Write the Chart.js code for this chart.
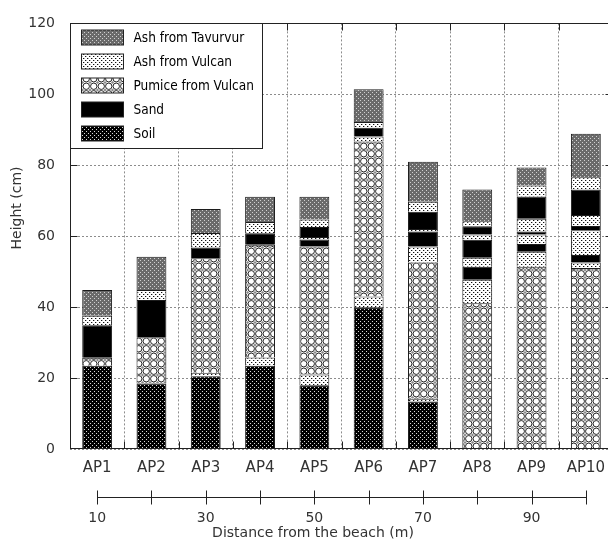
<!DOCTYPE html>
<html>
<head>
<meta charset="utf-8">
<script src="https://cdn.jsdelivr.net/npm/chart.js@4.4.1/dist/chart.umd.min.js"></script>
<style>
  html, body { margin: 0; padding: 0; overflow: hidden; background: #fff; }
  #wrap { width: 620px; height: 545px; }
</style>
</head>
<body>
<div id="wrap"><canvas id="chart" width="620" height="545"></canvas></div>
<script>
// Sampling sites and their distance from the beach (m)
const sites = ['AP1', 'AP2', 'AP3', 'AP4', 'AP5', 'AP6', 'AP7', 'AP8', 'AP9', 'AP10'];
const distances = [10, 20, 30, 40, 50, 60, 70, 80, 90, 100];
const distanceLabels = [10, 30, 50, 70, 90];

// Deposit types, legend order
const materials = ['ashTavurvur', 'ashVulcan', 'pumice', 'sand', 'soil'];
const materialNames = ['Ash from Tavurvur', 'Ash from Vulcan', 'Pumice from Vulcan', 'Sand', 'Soil'];

// Stratigraphy of each site, bottom to top: [deposit, height of layer top (cm)]
const AP1 = [['soil', 23.5], ['pumice', 25.7], ['sand', 34.9], ['ashVulcan', 37.6], ['ashTavurvur', 44.8]];
const AP2 = [['soil', 18.5], ['pumice', 31.5], ['sand', 42.0], ['ashVulcan', 44.8], ['ashTavurvur', 54.2]];
const AP3 = [['soil', 20.5], ['ashVulcan', 21.5], ['pumice', 53.8], ['sand', 56.8], ['ashVulcan', 60.9], ['ashTavurvur', 67.7]];
const AP4 = [['soil', 23.5], ['ashVulcan', 25.8], ['pumice', 57.6], ['sand', 60.8], ['ashVulcan', 64.0], ['ashTavurvur', 71.1]];
const AP5 = [['soil', 18.0], ['ashVulcan', 21.0], ['pumice', 57.1], ['sand', 59.1], ['ashVulcan', 59.8], ['sand', 62.6], ['ashVulcan', 64.7], ['ashTavurvur', 71.1]];
const AP6 = [['soil', 40.0], ['ashVulcan', 43.0], ['pumice', 86.7], ['ashVulcan', 88.1], ['sand', 90.6], ['ashVulcan', 92.2], ['ashTavurvur', 101.4]];
const AP7 = [['soil', 13.4], ['ashVulcan', 14.2], ['pumice', 52.6], ['ashVulcan', 57.1], ['sand', 61.3], ['ashVulcan', 62.0], ['sand', 66.9], ['ashVulcan', 69.7], ['ashTavurvur', 81.0]];
const AP8 = [['pumice', 41.1], ['ashVulcan', 47.7], ['sand', 51.4], ['ashVulcan', 53.9], ['sand', 59.0], ['ashVulcan', 60.5], ['sand', 62.8], ['ashVulcan', 64.2], ['ashTavurvur', 73.2]];
const AP9 = [['pumice', 51.4], ['ashVulcan', 55.6], ['sand', 57.8], ['ashVulcan', 60.5], ['sand', 61.3], ['ashVulcan', 64.9], ['sand', 71.2], ['ashVulcan', 74.3], ['ashTavurvur', 79.4]];
const AP10 = [['pumice', 51.0], ['ashVulcan', 52.6], ['sand', 54.7], ['ashVulcan', 61.7], ['sand', 62.9], ['ashVulcan', 66.0], ['sand', 73.2], ['ashVulcan', 76.6], ['ashTavurvur', 88.9]];
const profiles = [AP1, AP2, AP3, AP4, AP5, AP6, AP7, AP8, AP9, AP10];

// Fill patterns for the deposit types
function makeTile(w, h, paint) {
  const c = document.createElement('canvas');
  c.width = w; c.height = h;
  const g = c.getContext('2d');
  paint(g, w, h);
  return g.createPattern(c, 'repeat');
}
const fills = {
  ashTavurvur: makeTile(4, 4, g => {
    g.fillStyle = '#6a6a6a'; g.fillRect(0, 0, 4, 4);
    g.fillStyle = '#d0d0d0'; g.fillRect(0, 0, 1, 1); g.fillRect(2, 2, 1, 1);
  }),
  ashVulcan: makeTile(4, 4, g => {
    g.fillStyle = '#ffffff'; g.fillRect(0, 0, 4, 4);
    g.fillStyle = '#111111'; g.fillRect(1, 0, 1, 1); g.fillRect(3, 2, 1, 1);
    g.fillStyle = '#b8b8b8'; g.fillRect(2, 0, 1, 1); g.fillRect(0, 2, 1, 1);
  }),
  pumice: makeTile(15, 15, g => {
    g.fillStyle = '#ffffff'; g.fillRect(0, 0, 15, 15);
    g.strokeStyle = '#262626'; g.lineWidth = 1;
    for (let i = 0; i < 2; i++) for (let j = 0; j < 2; j++) {
      g.beginPath(); g.arc(3.75 + 7.5 * i, 3.75 + 7.5 * j, 3.2, 0, Math.PI * 2); g.stroke();
    }
    g.fillStyle = '#888888';
    for (let i = 0; i < 3; i++) for (let j = 0; j < 3; j++) {
      const cx = 7.5 * i, cy = 7.5 * j;
      g.beginPath(); g.moveTo(cx, cy - 1.6); g.lineTo(cx + 1.6, cy); g.lineTo(cx, cy + 1.6); g.lineTo(cx - 1.6, cy); g.closePath(); g.fill();
    }
  }),
  sand: '#000000',
  soil: makeTile(4, 4, g => {
    g.fillStyle = '#000000'; g.fillRect(0, 0, 4, 4);
    g.fillStyle = '#d8d8d8'; g.fillRect(0, 1, 1, 1); g.fillRect(2, 3, 1, 1);
  })
};

// One floating-bar dataset per (deposit, occurrence) so repeated layers can stack
const layerSets = new Map();
profiles.forEach((layers, i) => {
  let base = 0;
  const seen = {};
  layers.forEach(([mat, top]) => {
    seen[mat] = (seen[mat] || 0) + 1;
    const key = mat + '-' + seen[mat];
    if (!layerSets.has(key)) layerSets.set(key, { mat, data: sites.map(() => null) });
    layerSets.get(key).data[i] = [base, top];
    base = top;
  });
});
const datasets = [...layerSets.values()].map(s => ({
  label: materialNames[materials.indexOf(s.mat)],
  data: s.data,
  backgroundColor: fills[s.mat],
  xAxisID: 'x',
  yAxisID: 'y'
}));

const INK = '#222222';
const TEXT = '#333333';

// Plot frame with inward tick marks on all four sides
const framePlugin = {
  id: 'frame',
  afterDatasetsDraw(chart) {
    const { ctx, chartArea: a, scales: { x, y } } = chart;
    const L = Math.round(a.left) + 0.5, R = Math.round(a.right) - 0.5;
    const T = Math.round(a.top) + 0.5, B = Math.round(a.bottom) - 0.5;
    const len = 7;
    ctx.save();
    ctx.strokeStyle = INK; ctx.lineWidth = 1;
    ctx.beginPath();
    y.ticks.forEach(t => {
      if (t.value <= y.min || t.value >= y.max) return;
      const py = Math.round(y.getPixelForValue(t.value)) + 0.5;
      ctx.moveTo(L, py); ctx.lineTo(L + len, py);
      ctx.moveTo(R, py); ctx.lineTo(R - len, py);
    });
    for (let i = 0; i < sites.length - 1; i++) {
      const px = Math.round((x.getPixelForValue(i) + x.getPixelForValue(i + 1)) / 2) + 0.5;
      ctx.moveTo(px, T); ctx.lineTo(px, T + len);
      ctx.moveTo(px, B); ctx.lineTo(px, B - len);
    }
    ctx.stroke();
    ctx.strokeRect(L, T, R - L, B - T);
    ctx.restore();
  }
};

// Distance ruler under the site labels
const distancePlugin = {
  id: 'distanceRuler',
  afterDraw(chart) {
    const { ctx } = chart;
    const s = chart.scales.x2;
    const py = Math.round(s.top + 18) + 0.5;
    const x0 = s.getPixelForValue(distances[0]);
    const x1 = s.getPixelForValue(distances[distances.length - 1]);
    ctx.save();
    ctx.strokeStyle = INK; ctx.lineWidth = 1;
    ctx.beginPath();
    ctx.moveTo(Math.round(x0), py); ctx.lineTo(Math.round(x1) + 1, py);
    distances.forEach(d => {
      const px = Math.round(s.getPixelForValue(d)) + 0.5;
      ctx.moveTo(px, py - 7); ctx.lineTo(px, py + 7);
    });
    ctx.stroke();
    ctx.restore();
  }
};

// Axis titles
const titlesPlugin = {
  id: 'axisTitles',
  afterDraw(chart) {
    const { ctx } = chart;
    ctx.save();
    ctx.fillStyle = TEXT;
    ctx.font = '14px "DejaVu Sans", sans-serif';
    ctx.textAlign = 'center';
    ctx.textBaseline = 'middle';
    ctx.fillText('Distance from the beach (m)', 313, 533);
    ctx.translate(17, 208);
    ctx.rotate(-Math.PI / 2);
    ctx.fillText('Height (cm)', 0, 0);
    ctx.restore();
  }
};

// Boxed legend in the upper-left corner of the plot
const legendPlugin = {
  id: 'boxLegend',
  afterDraw(chart) {
    const { ctx, chartArea: a } = chart;
    const bx = Math.round(a.left) + 0.5, by = Math.round(a.top) + 0.5;
    ctx.save();
    ctx.fillStyle = '#ffffff';
    ctx.fillRect(bx, by, 192, 125);
    ctx.strokeStyle = INK; ctx.lineWidth = 1;
    ctx.strokeRect(bx, by, 192, 125);
    ctx.font = '13.5px "DejaVu Sans Condensed", "Liberation Sans Narrow", "DejaVu Sans", sans-serif';
    ctx.textBaseline = 'middle';
    ctx.textAlign = 'left';
    materials.forEach((m, k) => {
      const sy = by + 6.5 + 24 * k;
      ctx.fillStyle = fills[m];
      ctx.fillRect(bx + 11, sy, 42, 15);
      ctx.strokeRect(bx + 11, sy, 42, 15);
      ctx.fillStyle = '#000000';
      ctx.fillText(materialNames[k], bx + 63, sy + 8);
    });
    ctx.restore();
  }
};

Chart.defaults.font.family = '"DejaVu Sans", sans-serif';

new Chart(document.getElementById('chart'), {
  type: 'bar',
  data: { labels: sites, datasets },
  options: {
    responsive: false,
    animation: false,
    layout: { padding: { top: 13, right: 7, left: 0, bottom: 0 } },
    plugins: { legend: { display: false }, tooltip: { enabled: false } },
    datasets: {
      bar: {
        grouped: false,
        categoryPercentage: 1,
        barPercentage: 0.55,
        borderColor: '#1c1c1c',
        borderWidth: { top: 1, left: 1, right: 1, bottom: 0 },
        borderSkipped: false,
        inflateAmount: 0
      }
    },
    scales: {
      x: {
        type: 'category',
        position: 'bottom',
        weight: 0,
        offset: true,
        grid: { offset: true, color: '#8c8c8c', drawTicks: false },
        border: { display: false, dash: [2, 2] },
        ticks: { font: { size: 15 }, color: TEXT, padding: 10, autoSkip: false, maxRotation: 0 },
        afterFit(s) { s.height = 30; }
      },
      x2: {
        type: 'linear',
        position: 'bottom',
        weight: 1,
        min: 5,
        max: 105,
        offset: false,
        grid: { display: false, drawTicks: false, offset: false },
        border: { display: false },
        afterBuildTicks(s) { s.ticks = distances.map(v => ({ value: v })); },
        ticks: {
          callback: v => (distanceLabels.includes(v) ? String(v) : ''),
          font: { size: 14 }, color: TEXT, padding: 31, autoSkip: false, maxRotation: 0
        },
        afterFit(s) { s.height = 66; }
      },
      y: {
        min: 0,
        max: 120,
        ticks: { stepSize: 20, font: { size: 14 }, color: TEXT, padding: 15 },
        grid: { color: '#8c8c8c', drawTicks: false },
        border: { display: false, dash: [2, 2] },
        afterFit(s) { s.width = 70; }
      }
    }
  },
  plugins: [framePlugin, distancePlugin, titlesPlugin, legendPlugin]
});
</script>
</body>
</html>
